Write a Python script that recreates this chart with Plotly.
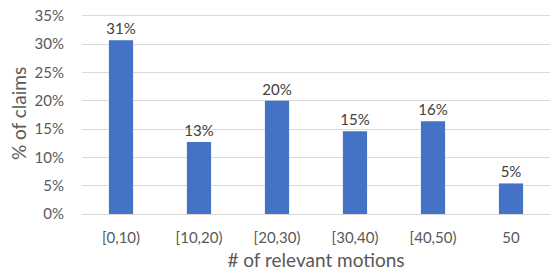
import plotly.graph_objects as go

categories = ["[0,10)", "[10,20)", "[20,30)", "[30,40)", "[40,50)", "50"]
share_of_claims = [0.307, 0.127, 0.200, 0.146, 0.164, 0.054]
y_tick_values = [0, 0.05, 0.10, 0.15, 0.20, 0.25, 0.30, 0.35]

FONT = "Lato, 'Open Sans', sans-serif"
GREY = "#595959"

fig = go.Figure(
    go.Bar(
        x=categories,
        y=share_of_claims,
        marker=dict(color="#4472C4", line=dict(width=0)),
        texttemplate="%{y:.0%}",
        textposition="outside",
        constraintext="none",
        textfont=dict(family=FONT, size=15, color="#404040"),
        cliponaxis=False,
    )
)

fig.update_layout(
    width=550,
    height=277,
    margin=dict(l=82, r=0, t=13, b=63),
    paper_bgcolor="white",
    plot_bgcolor="white",
    bargap=0.69,
    showlegend=False,
    font=dict(family=FONT, color=GREY),
)

fig.update_xaxes(
    title=dict(text="# of relevant motions", font=dict(size=19, color=GREY), standoff=8),
    tickfont=dict(size=15, color=GREY),
    showgrid=False,
    showline=False,
    ticks="outside",
    ticklen=10,
    tickcolor="rgba(0,0,0,0)",
    automargin=False,
)

fig.update_yaxes(
    title=dict(text="% of claims", font=dict(size=19, color=GREY), standoff=2),
    range=[0, 0.355],
    tickvals=y_tick_values,
    tickformat=".0%",
    tickfont=dict(size=15, color=GREY),
    showgrid=True,
    gridcolor="#d9d9d9",
    gridwidth=1,
    zeroline=True,
    zerolinecolor="#d9d9d9",
    zerolinewidth=1,
    ticks="outside",
    ticklen=14,
    tickcolor="rgba(0,0,0,0)",
    automargin=False,
)

fig.write_html(
    "out.html",
    config={"displayModeBar": False},
    post_script="document.body.style.margin='0';",
)
